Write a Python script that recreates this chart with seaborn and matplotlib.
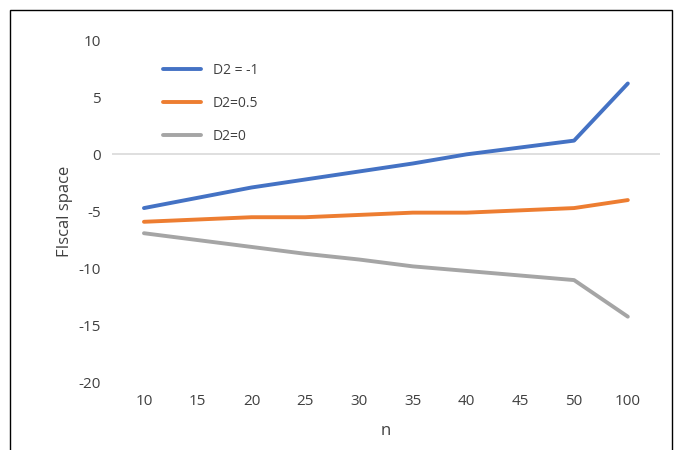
import matplotlib
matplotlib.use("Agg")
import matplotlib.pyplot as plt
import pandas as pd
import seaborn as sns

n_labels = ["10", "15", "20", "25", "30", "35", "40", "45", "50", "100"]
d2_neg1 = [-4.7, -3.8, -2.9, -2.2, -1.5, -0.8, 0.0, 0.6, 1.2, 6.2]
d2_half = [-5.9, -5.7, -5.5, -5.5, -5.3, -5.1, -5.1, -4.9, -4.7, -4.0]
d2_zero = [-6.9, -7.5, -8.1, -8.7, -9.2, -9.8, -10.2, -10.6, -11.0, -14.2]

sns.set_style("white")
plt.rcParams["font.family"] = ["Open Sans", "DejaVu Sans"]
plt.rcParams["axes.unicode_minus"] = False

df = pd.DataFrame({"n": n_labels * 3,
                   "val": d2_neg1 + d2_half + d2_zero,
                   "series": ["D2 = -1"] * 10 + ["D2=0.5"] * 10 + ["D2=0"] * 10})
df["x"] = list(range(10)) * 3

fig = plt.figure(figsize=(6.77, 4.5), dpi=100)
ax = fig.add_axes([0.165, 0.149, 0.81, 0.762])
fig.patches.append(plt.Rectangle((10 / 677, -0.05), 662 / 677, 0.05 + 440 / 450,
                                 transform=fig.transFigure,
                                 fill=False, edgecolor="black", linewidth=1))

ax.axhline(0, color="#d9d9d9", linewidth=1.2, zorder=0)
sns.lineplot(data=df, x="x", y="val", hue="series", ax=ax, linewidth=2.8,
             palette=["#4472c4", "#ed7d31", "#a5a5a5"])

ax.set_xlim(-0.6, 9.6)
ax.set_ylim(-20, 10)
ax.set_yticks(range(-20, 11, 5))
ax.set_xticks(range(10))
ax.set_xticklabels(n_labels)
ax.tick_params(labelsize=11, colors="#404040", length=0, pad=8)
for s in ax.spines.values():
    s.set_visible(False)
ax.set_xlabel("n", fontsize=12, color="#404040", labelpad=10)
ax.set_ylabel("FIscal space", fontsize=12, color="#404040")

leg = ax.legend(loc="upper left", frameon=False, fontsize=10, handlelength=2.8,
                labelspacing=1.3, bbox_to_anchor=(0.07, 0.97))
for t in leg.get_texts():
    t.set_color("#404040")

fig.savefig("out.png", dpi=100)
